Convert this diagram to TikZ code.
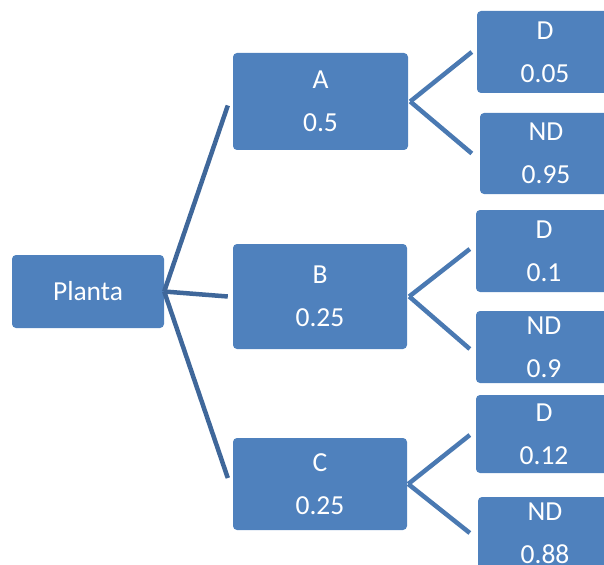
\documentclass[tikz,border=0pt]{standalone}
\usepackage{fontspec}
\setmainfont{Carlito}
\usepackage{tikz}
\usetikzlibrary{positioning}

\definecolor{boxblue}{HTML}{4F81BD}
\definecolor{linkdark}{HTML}{3F679A}
\definecolor{linklight}{HTML}{4A79B2}

\tikzset{
  box/.style={fill=boxblue, rounded corners=4pt, text=white, align=center,
    font=\fontsize{27.5}{43}\selectfont, inner sep=0pt},
  link/.style={line width=4.5pt, linkdark},
  sublink/.style={line width=4.5pt, linklight},
}

\begin{document}
\begin{tikzpicture}[x=1pt, y=-1pt]
\useasboundingbox (0,0) rectangle (604,564);
\clip (0,0) rectangle (604,564);

% root
\node[box, minimum width=152pt, minimum height=73pt] (planta) at (88,291.5) {Planta};

% first level
\node[box, minimum width=175pt, minimum height=97pt] (a) at (320.5,101.5) {A\\0.5};
\node[box, minimum width=174pt, minimum height=105pt] (b) at (320,296.5) {B\\0.25};
\node[box, minimum width=174pt, minimum height=92pt] (c) at (320,484) {C\\0.25};

% second level
\node[box, minimum width=136pt, minimum height=82pt] (ad) at (545,52) {D\\0.05};
\node[box, minimum width=132pt, minimum height=81pt] (and) at (546,153.5) {ND\\0.95};
\node[box, minimum width=136pt, minimum height=82pt] (bd) at (544,251) {D\\0.1};
\node[box, minimum width=136pt, minimum height=72pt] (bnd) at (544,347) {ND\\0.9};
\node[box, minimum width=136pt, minimum height=78pt] (cd) at (544,434) {D\\0.12};
\node[box, minimum width=134pt, minimum height=72pt] (cnd) at (545,533) {ND\\0.88};

% branches
\draw[link] (planta.east) -- ([xshift=-5pt, yshift=-4pt]a.west);
\draw[link] (planta.east) -- ([xshift=-5pt]b.west);
\draw[link] (planta.east) -- ([xshift=-5pt, yshift=6pt]c.west);

\draw[sublink] ([xshift=2pt]a.east) -- ([xshift=-5pt]ad.west);
\draw[sublink] ([xshift=2pt]a.east) -- ([xshift=-8pt]and.west);
\draw[sublink] ([xshift=2pt]b.east) -- ([xshift=-6pt, yshift=2pt]bd.west);
\draw[sublink] ([xshift=2pt]b.east) -- ([xshift=-6pt, yshift=-2pt]bnd.west);
\draw[sublink] ([xshift=1pt]c.east) -- ([xshift=-6pt, yshift=-1pt]cd.west);
\draw[sublink] ([xshift=1pt]c.east) -- ([xshift=-8pt, yshift=0pt]cnd.west);

\end{tikzpicture}
\end{document}
